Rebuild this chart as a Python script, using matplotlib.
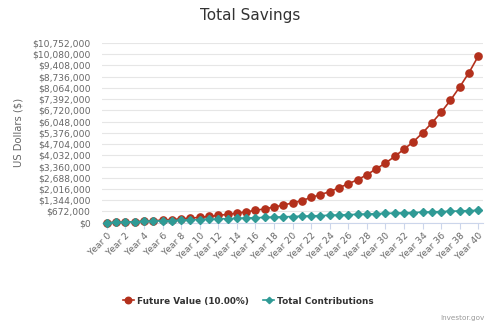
import matplotlib
matplotlib.use("Agg")
import matplotlib.pyplot as plt
from matplotlib.ticker import FuncFormatter, MultipleLocator

years = list(range(0, 41))
year_labels = [f"Year {y}" for y in years]

future_value = [
    0, 19000, 40000, 63000, 90000, 120000, 152000, 188000, 228000, 272000,
    322000, 376000, 436000, 502000, 572000, 650000, 738000, 830000, 935000, 1055000,
    1185000, 1325000, 1510000, 1680000, 1860000, 2090000, 2330000, 2570000, 2867000, 3225000,
    3566000, 3966000, 4402000, 4838000, 5376000, 5973000, 6612000, 7329000, 8124000, 8984000,
    9975000,
]
total_contributions = [
    0, 18500, 37000, 55500, 74000, 92500, 111000, 129500, 148000, 166500,
    185000, 203500, 222000, 240500, 259000, 277500, 296000, 314500, 333000, 351500,
    370000, 388500, 407000, 425500, 444000, 462500, 481000, 499500, 518000, 536500,
    555000, 573500, 592000, 610500, 629000, 647500, 666000, 684500, 703000, 721500,
    740000,
]
y_max = 10752000
y_step = 672000

RED = "#b3301c"
TEAL = "#2f9a95"

plt.rcParams['font.family'] = ['DejaVu Sans']

fig = plt.figure(figsize=(4.92, 3.28), dpi=100)
ax = fig.add_axes([0.2067, 0.321, 0.775, 0.548])

ax.plot(years, future_value, color=RED, lw=1.2, marker="o", ms=5.2,
        label="Future Value (10.00%)", clip_on=False, zorder=3)
ax.plot(years, total_contributions, color=TEAL, lw=1.2, marker="D", ms=3.6,
        label="Total Contributions", clip_on=False, zorder=4)

ax.set_xlim(-0.55, 40.5)
ax.set_ylim(0, y_max)
ax.yaxis.set_major_locator(MultipleLocator(y_step))
ax.yaxis.set_major_formatter(FuncFormatter(lambda v, p: f"${v:,.0f}"))
ax.grid(axis="y", color="#e6e6e6", lw=0.8)
ax.set_axisbelow(True)

ax.set_xticks(years[::2])
ax.set_xticklabels(year_labels[::2], rotation=45, ha="right", rotation_mode="anchor")

for s in ["top", "right", "left"]:
    ax.spines[s].set_visible(False)
ax.spines["bottom"].set_color("#ccd6eb")
ax.spines["bottom"].set_linewidth(0.8)

ax.tick_params(axis="y", length=0, pad=8, labelsize=6.6, labelcolor="#666666")
ax.tick_params(axis="x", length=4, color="#ccd6eb", pad=2, labelsize=6.6, labelcolor="#666666")

ax.set_ylabel("US Dollars ($)", fontsize=7.2, color="#666666")
ax.yaxis.set_label_coords(-0.206, 0.5)

fig.text(0.508, 0.953, "Total Savings", ha="center", va="center", fontsize=11, color="#333333")

leg = fig.legend(loc="center", bbox_to_anchor=(0.505, 0.082), ncol=2, frameon=False,
                 prop={"size": 6.4, "weight": "bold"}, handlelength=1.2,
                 handletextpad=0.4, columnspacing=1.6, labelcolor="#333333",
                 markerscale=0.9)

fig.text(0.985, 0.03, "Investor.gov", ha="right", va="center", fontsize=5.2, color="#999999")

fig.savefig("out.png", dpi=100)
